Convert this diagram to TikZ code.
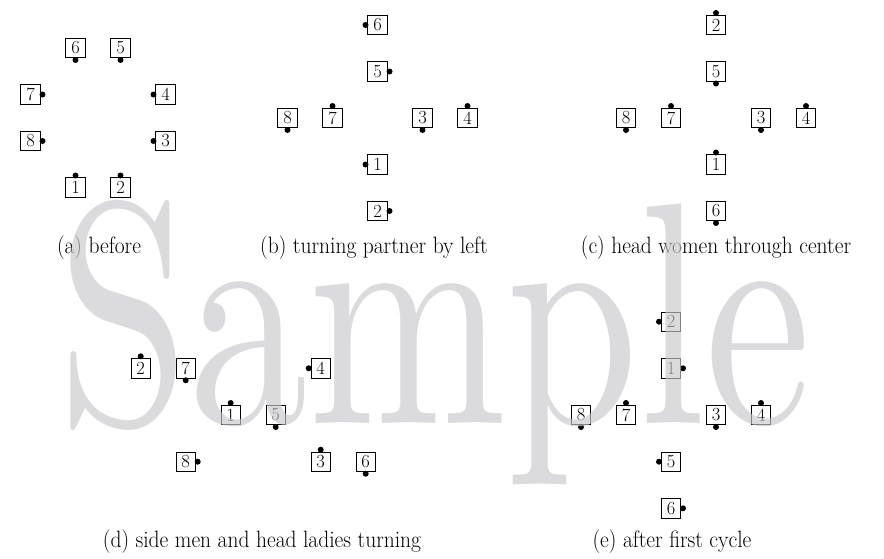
\documentclass[tikz,border=0pt]{standalone}
\usepackage{graphicx}
\usepackage{fontspec}
\newfontfamily\wmfont{lmroman10-regular.otf}
\definecolor{wmgray}{RGB}{200,200,205}
\tikzset{
  dbox/.style={draw, line width=0.9pt, minimum size=19.5pt, inner sep=0pt,
    font=\fontsize{18.5}{18.5}\selectfont},
  capt/.style={anchor=base, inner sep=0pt, font=\fontsize{21.5}{25}\selectfont},
}
\newcommand\capx[1]{\scalebox{1}[1.1]{#1}}
\newcommand\dS[1]{\fill ([yshift=-1.8pt]#1.south) circle[radius=3pt];}
\newcommand\dN[1]{\fill ([yshift=1.8pt]#1.north) circle[radius=3pt];}
\newcommand\dE[1]{\fill ([xshift=1.8pt]#1.east) circle[radius=3pt];}
\newcommand\dW[1]{\fill ([xshift=-1.8pt]#1.west) circle[radius=3pt];}
\begin{document}
\begin{tikzpicture}[x=1pt,y=-1pt]
\useasboundingbox (0,0) rectangle (884,558);
% (a)
\node[dbox] (a6) at (75.5,48) {6}; \dS{a6}
\node[dbox] (a5) at (120.5,48) {5}; \dS{a5}
\node[dbox] (a7) at (30.5,94.5) {7}; \dE{a7}
\node[dbox] (a4) at (165.5,94.5) {4}; \dW{a4}
\node[dbox] (a8) at (30.5,141) {8}; \dE{a8}
\node[dbox] (a3) at (165.5,141) {3}; \dW{a3}
\node[dbox] (a1) at (75.5,187.5) {1}; \dN{a1}
\node[dbox] (a2) at (120.5,187.5) {2}; \dN{a2}
\node[capt] (ca) at (99,253.5) {\capx{(a) before}};
% (b)
\node[dbox] (b6) at (377.5,25) {6}; \dW{b6}
\node[dbox] (b5) at (377.5,71.5) {5}; \dE{b5}
\node[dbox] (b8) at (287.5,118) {8}; \dS{b8}
\node[dbox] (b7) at (332.5,118) {7}; \dN{b7}
\node[dbox] (b3) at (422.5,118) {3}; \dS{b3}
\node[dbox] (b4) at (467.5,118) {4}; \dN{b4}
\node[dbox] (b1) at (377.5,164.5) {1}; \dW{b1}
\node[dbox] (b2) at (377.5,211) {2}; \dE{b2}
\node[capt] (cb) at (374,253.5) {\capx{(b) turning partner by left}};
% (c)
\node[dbox] (c2) at (716,25) {2}; \dN{c2}
\node[dbox] (c5) at (716,71.5) {5}; \dS{c5}
\node[dbox] (c8) at (626,118) {8}; \dS{c8}
\node[dbox] (c7) at (671,118) {7}; \dN{c7}
\node[dbox] (c3) at (761,118) {3}; \dS{c3}
\node[dbox] (c4) at (806,118) {4}; \dN{c4}
\node[dbox] (c1) at (716,164.5) {1}; \dN{c1}
\node[dbox] (c6) at (716,211) {6}; \dS{c6}
\node[capt] (cc) at (716,253.5) {\capx{(c) head women through center}};
% (d)
\node[dbox] (d2) at (140.7,368.3) {2}; \dN{d2}
\node[dbox] (d7) at (185.7,368.3) {7}; \dS{d7}
\node[dbox] (d4) at (320.7,368.3) {4}; \dW{d4}
\node[dbox] (d1) at (230.7,415) {1}; \dN{d1}
\node[dbox] (d5) at (275.7,415) {5}; \dS{d5}
\node[dbox] (d8) at (185.7,461.7) {8}; \dE{d8}
\node[dbox] (d3) at (320.7,461.7) {3}; \dN{d3}
\node[dbox] (d6) at (365.7,461.7) {6}; \dS{d6}
\node[capt] (cd) at (262,547.5) {\capx{(d) side men and head ladies turning}};
% (e)
\node[dbox] (e2) at (671,321.7) {2}; \dW{e2}
\node[dbox] (e1) at (671,368.3) {1}; \dE{e1}
\node[dbox] (e8) at (581,415) {8}; \dS{e8}
\node[dbox] (e7) at (626,415) {7}; \dN{e7}
\node[dbox] (e3) at (716,415) {3}; \dS{e3}
\node[dbox] (e4) at (761,415) {4}; \dN{e4}
\node[dbox] (e5) at (671,461.7) {5}; \dW{e5}
\node[dbox] (e6) at (671,508.3) {6}; \dE{e6}
\node[capt] (ce) at (672,547.5) {\capx{(e) after first cycle}};
% watermark
\node[anchor=base west, inner sep=0pt, text=wmgray, opacity=0.65] (wm) at (57,423)
  {\scalebox{1}[1.33]{\wmfont\fontsize{238}{238}\selectfont Sample}};
\end{tikzpicture}
\end{document}
